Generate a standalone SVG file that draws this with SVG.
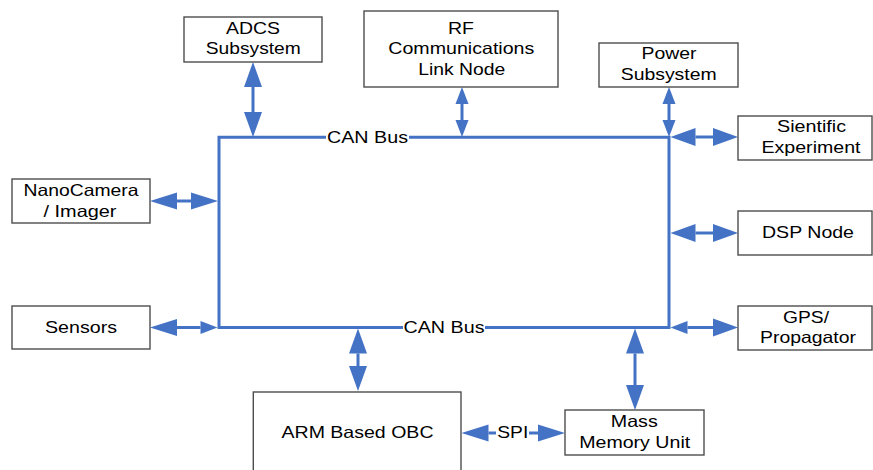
<svg xmlns="http://www.w3.org/2000/svg" width="873" height="470" viewBox="0 0 873 470">
  <style>
    .box { fill: #ffffff; stroke: #4d4d4d; stroke-width: 1.4; }
    .lbl { font-family: "Liberation Sans", Arial, sans-serif; font-size: 16.5px; fill: #000000; text-anchor: middle; }
    .bus { fill: none; stroke: #4472C4; stroke-width: 3; }
    .link { fill: none; stroke: #4472C4; stroke-width: 3; }
    .bg { fill: #ffffff; }
  </style>
  <defs>
    <!-- arrowheads: base sits on the line end, tip extends beyond it -->
    <marker id="a25" markerUnits="userSpaceOnUse" markerWidth="25" markerHeight="18" refX="0" refY="9" orient="auto-start-reverse" overflow="visible">
      <path d="M0,0 L25,9 L0,18 Z" fill="#4472C4"/>
    </marker>
    <marker id="a17" markerUnits="userSpaceOnUse" markerWidth="17" markerHeight="13" refX="0" refY="6.5" orient="auto-start-reverse" overflow="visible">
      <path d="M0,0 L17,6.5 L0,13 Z" fill="#4472C4"/>
    </marker>
    <marker id="a27" markerUnits="userSpaceOnUse" markerWidth="27" markerHeight="17" refX="0" refY="8.5" orient="auto-start-reverse" overflow="visible">
      <path d="M0,0 L27,8.5 L0,17 Z" fill="#4472C4"/>
    </marker>
  </defs>

  <rect width="873" height="470" fill="#ffffff"/>

  <g id="connectors">
    <!-- CAN bus loop -->
    <path class="bus" d="M219,137.3 H669 V327.5 H219 Z"/>
    <rect class="bg" x="326" y="128" width="83" height="17"/>
    <rect class="bg" x="403" y="318" width="82" height="17"/>
    <text class="lbl" x="367.5" y="142.7" textLength="81" lengthAdjust="spacingAndGlyphs">CAN Bus</text>
    <text class="lbl" x="444" y="332.7" textLength="81" lengthAdjust="spacingAndGlyphs">CAN Bus</text>

    <!-- top drops -->
    <line class="link" x1="253" y1="87" x2="253" y2="112" marker-start="url(#a25)" marker-end="url(#a25)"/>
    <line class="link" x1="462" y1="104" x2="462" y2="120" marker-start="url(#a17)" marker-end="url(#a17)"/>
    <line class="link" x1="669" y1="104" x2="669" y2="120" marker-start="url(#a17)" marker-end="url(#a17)"/>

    <!-- right-side links -->
    <line class="link" x1="695.5" y1="137" x2="713" y2="137" marker-start="url(#a25)" marker-end="url(#a25)"/>
    <line class="link" x1="695.5" y1="233" x2="713" y2="233" marker-start="url(#a25)" marker-end="url(#a25)"/>
    <line class="link" x1="687.5" y1="327.5" x2="713" y2="327.5" marker-start="url(#a17)" marker-end="url(#a25)"/>

    <!-- left-side links -->
    <line class="link" x1="177" y1="201" x2="191" y2="201" marker-start="url(#a27)" marker-end="url(#a27)"/>
    <line class="link" x1="177" y1="327.5" x2="200.5" y2="327.5" marker-start="url(#a27)" marker-end="url(#a17)"/>

    <!-- bottom drops -->
    <line class="link" x1="358" y1="353.5" x2="358" y2="366" marker-start="url(#a25)" marker-end="url(#a25)"/>
    <line class="link" x1="635" y1="353.5" x2="635" y2="385" marker-start="url(#a25)" marker-end="url(#a25)"/>

    <!-- SPI link -->
    <line class="link" x1="488.5" y1="433" x2="538" y2="433" marker-start="url(#a27)" marker-end="url(#a27)"/>
    <rect class="bg" x="496" y="424" width="33" height="17"/>
    <text class="lbl" x="512.8" y="438.3" textLength="31" lengthAdjust="spacingAndGlyphs">SPI</text>
  </g>

  <g id="adcs">
    <rect class="box" x="184" y="17" width="138" height="45"/>
    <text class="lbl" x="253" y="34" textLength="54" lengthAdjust="spacingAndGlyphs">ADCS</text>
    <text class="lbl" x="253.3" y="54.3" textLength="95" lengthAdjust="spacingAndGlyphs">Subsystem</text>
  </g>

  <g id="rf-link">
    <rect class="box" x="364" y="11" width="194" height="76"/>
    <text class="lbl" x="461" y="33.5" textLength="26" lengthAdjust="spacingAndGlyphs">RF</text>
    <text class="lbl" x="461.3" y="54" textLength="146" lengthAdjust="spacingAndGlyphs">Communications</text>
    <text class="lbl" x="461.7" y="74.7" textLength="87" lengthAdjust="spacingAndGlyphs">Link Node</text>
  </g>

  <g id="power">
    <rect class="box" x="599" y="43" width="139" height="44"/>
    <text class="lbl" x="669" y="59.3" textLength="55" lengthAdjust="spacingAndGlyphs">Power</text>
    <text class="lbl" x="668.7" y="80" textLength="96" lengthAdjust="spacingAndGlyphs">Subsystem</text>
  </g>

  <g id="experiment">
    <rect class="box" x="738" y="116" width="134" height="44"/>
    <text class="lbl" x="811.5" y="131.7" textLength="69" lengthAdjust="spacingAndGlyphs">Sientific</text>
    <text class="lbl" x="811" y="153.3" textLength="99" lengthAdjust="spacingAndGlyphs">Experiment</text>
  </g>

  <g id="dsp">
    <rect class="box" x="738" y="211" width="134" height="44"/>
    <text class="lbl" x="808" y="238.3" textLength="92" lengthAdjust="spacingAndGlyphs">DSP Node</text>
  </g>

  <g id="gps">
    <rect class="box" x="738" y="306" width="134" height="44"/>
    <text class="lbl" x="806" y="323.3" textLength="46" lengthAdjust="spacingAndGlyphs">GPS/</text>
    <text class="lbl" x="808" y="343.3" textLength="96" lengthAdjust="spacingAndGlyphs">Propagator</text>
  </g>

  <g id="camera">
    <rect class="box" x="12" y="179" width="138" height="44"/>
    <text class="lbl" x="81" y="196" textLength="115" lengthAdjust="spacingAndGlyphs">NanoCamera</text>
    <text class="lbl" x="80" y="216.7" textLength="73" lengthAdjust="spacingAndGlyphs">/ Imager</text>
  </g>

  <g id="sensors">
    <rect class="box" x="12" y="306" width="138" height="43"/>
    <text class="lbl" x="81" y="333.3" textLength="72" lengthAdjust="spacingAndGlyphs">Sensors</text>
  </g>

  <g id="obc">
    <rect class="box" x="253.3" y="392" width="207.7" height="90"/>
    <text class="lbl" x="357.5" y="438.3" textLength="152" lengthAdjust="spacingAndGlyphs">ARM Based OBC</text>
  </g>

  <g id="mass-memory">
    <rect class="box" x="565" y="410" width="139" height="45"/>
    <text class="lbl" x="634.3" y="427.3" textLength="47" lengthAdjust="spacingAndGlyphs">Mass</text>
    <text class="lbl" x="634.7" y="448.3" textLength="111" lengthAdjust="spacingAndGlyphs">Memory Unit</text>
  </g>
</svg>
